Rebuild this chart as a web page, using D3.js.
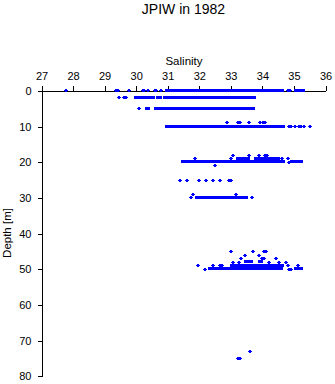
<!DOCTYPE html>
<html>
<head>
<meta charset="utf-8">
<script src="https://cdn.jsdelivr.net/npm/d3@7"></script>
<style>
  html, body { margin: 0; padding: 0; background: #fff; }
  svg { display: block; font-family: Arial, "Liberation Sans", Helvetica, sans-serif; }
</style>
</head>
<body>
<svg id="chart" width="335" height="384"></svg>
<script>
// ---- data ----
const title = "JPIW in 1982";
const xLabel = "Salinity";
const yLabel = "Depth [m]";
const salinityTicks = [27, 28, 29, 30, 31, 32, 33, 34, 35, 36];
const depthTicks = [0, 10, 20, 30, 40, 50, 60, 70, 80];

// individual observations: [depth, salinity]
const points = [
  [0, 27.78], [0, 29.38], [0, 29.43], [0, 29.79], [0, 30.22], [0, 30.25], [0, 30.38],
  [0, 30.60], [0, 30.63], [0, 30.81], [0, 34.83], [0, 34.89],
  [2, 29.47], [2, 29.63], [2, 29.70],
  [5, 30.10],
  [9, 32.91], [9, 33.24], [9, 33.30], [9, 33.59], [9, 33.95], [9, 34.02], [9, 34.11],
  [10, 34.85], [10, 34.91], [10, 35.04], [10, 35.19], [10, 35.25], [10, 35.32], [10, 35.54],
  [18, 33.10], [18, 33.60], [18, 33.92], [18, 34.10], [18, 34.16],
  [19, 31.87], [19, 33.02], [19, 34.54], [19, 34.64], [19, 34.82],
  [20, 34.85],
  [21, 32.50],
  [25, 31.40], [25, 31.63], [25, 32.01], [25, 32.22], [25, 32.45], [25, 32.67], [25, 32.95], [25, 33.02],
  [29, 31.82], [29, 33.19],
  [30, 31.75], [30, 33.68],
  [45, 33.02], [45, 33.73], [45, 34.08], [45, 34.14],
  [46, 33.46], [46, 33.90],
  [47, 33.35], [47, 33.99], [47, 34.07], [47, 34.45],
  [48, 33.10], [48, 33.27], [48, 34.23], [48, 34.53], [48, 34.77],
  [49, 31.98], [49, 32.46], [49, 32.66], [49, 32.73], [49, 34.83], [49, 35.15],
  [50, 32.20], [50, 34.85], [50, 34.92],
  [73, 33.62],
  [75, 33.24], [75, 33.32]
];

// densely overlapping observations: [depth, salinity from, salinity to]
const runs = [
  [0, 30.98, 31.22], [0, 31.35, 34.63], [0, 35.07, 35.29],
  [2, 30.01, 30.22], [2, 30.37, 30.56], [2, 30.70, 30.77], [2, 30.93, 33.76],
  [5, 30.35, 30.40], [5, 30.66, 30.70], [5, 30.82, 30.95], [5, 31.08, 33.73],
  [10, 30.98, 31.01], [10, 31.16, 31.20], [10, 31.33, 34.68],
  [19, 33.25, 33.36], [19, 33.48, 33.56], [19, 33.80, 34.26], [19, 34.37, 34.44],
  [20, 31.49, 34.68], [20, 34.97, 35.25],
  [30, 31.93, 33.50],
  [48, 33.49, 33.67], [48, 33.93, 33.98],
  [49, 33.04, 34.63],
  [50, 32.34, 34.60], [50, 35.07, 35.25]
];

// ---- drawing ----
const svg = d3.select("#chart");
const blue = "#0000ff";

const x = d3.scaleLinear().domain([27, 36]).range([41, 325]);
const y = d3.scaleLinear().domain([0, 80]).range([90.3, 375.9]);

svg.append("text")
  .attr("x", 183.5).attr("y", 13.5)
  .attr("text-anchor", "middle")
  .attr("font-size", 14)
  .text(title);

svg.append("text")
  .attr("x", 184).attr("y", 65)
  .attr("text-anchor", "middle")
  .attr("font-size", 11.5)
  .text(xLabel);

svg.append("text")
  .attr("transform", "translate(11,233) rotate(-90)")
  .attr("text-anchor", "middle")
  .attr("font-size", 11.5)
  .text(yLabel);

const xAxis = svg.append("g")
  .attr("transform", "translate(0.5,90.5)")
  .call(d3.axisTop(x).tickValues(salinityTicks).tickFormat(d3.format("d"))
    .tickSize(5).tickSizeOuter(0).tickPadding(6));
const yAxis = svg.append("g")
  .attr("transform", "translate(41.5,0.5)")
  .call(d3.axisLeft(y).tickValues(depthTicks).tickFormat(d3.format("d"))
    .tickSize(4).tickSizeOuter(0).tickPadding(6));

[xAxis, yAxis].forEach(g => {
  g.selectAll("text").attr("font-size", 11).attr("font-family", "Arial, 'Liberation Sans', sans-serif").attr("fill", "#000");
  g.selectAll("path, line").attr("stroke", "#000").attr("shape-rendering", "crispEdges");
});

const marks = svg.append("g").attr("fill", blue).attr("shape-rendering", "crispEdges");

marks.selectAll("rect.run").data(runs).join("rect")
  .attr("class", "run")
  .attr("x", d => x(d[1]) - 2)
  .attr("width", d => x(d[2]) - x(d[1]) + 4)
  .attr("y", d => Math.round(y(d[0]) - 1.5))
  .attr("height", 3);

const plus = "M-2,-0.5h4v1h-4z M-1,-1.5h2v3h-2z";
marks.selectAll("path.pt").data(points).join("path")
  .attr("class", "pt")
  .attr("d", plus)
  .attr("transform", d => `translate(${Math.round(x(d[1]))},${Math.round(y(d[0]))})`);
</script>
</body>
</html>
